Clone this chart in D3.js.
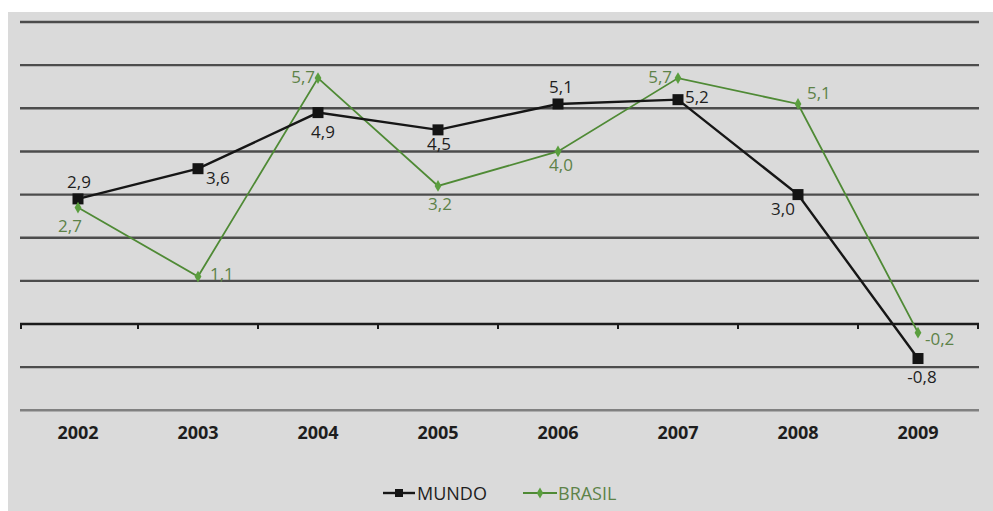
<!DOCTYPE html>
<html>
<head>
<meta charset="utf-8">
<script src="https://cdn.jsdelivr.net/npm/d3@7"></script>
<style>
  html, body { margin: 0; padding: 0; background: #ffffff; }
  svg { display: block; }
  text { font-family: "Open Sans", "DejaVu Sans", sans-serif; }
</style>
</head>
<body>
<svg id="chart" width="993" height="511"></svg>
<script>
// Crescimento do PIB (%), Mundo x Brasil
const years = ["2002", "2003", "2004", "2005", "2006", "2007", "2008", "2009"];
const mundo = [2.9, 3.6, 4.9, 4.5, 5.1, 5.2, 3.0, -0.8];
const brasil = [2.7, 1.1, 5.7, 3.2, 4.0, 5.7, 5.1, -0.2];
const gridValues = [-2, -1, 0, 1, 2, 3, 4, 5, 6, 7];
const seriesNames = ["MUNDO", "BRASIL"];

// label placement per point: [dx, dy, anchor]
const mundoLabelPos = [
  [1, -11, "middle"], [8, 15, "start"], [5, 25, "middle"], [1, 20, "middle"],
  [3, -11, "middle"], [7, 3, "start"], [-15, 20, "middle"], [4, 24, "middle"]
];
const brasilLabelPos = [
  [-8, 24, "middle"], [12, 3, "start"], [-3, 5, "end"], [2, 24, "middle"],
  [3, 20, "middle"], [-6, 5, "end"], [9, -5, "start"], [7, 12, "start"]
];

const fmt = d3.formatLocale({ decimal: ",", thousands: ".", grouping: [3], currency: ["", ""], minus: "-" }).format(".1f");

const svg = d3.select("#chart");
const W = 993, H = 511;

// panel background
svg.append("rect").attr("x", 8).attr("y", 12).attr("width", W - 8).attr("height", H - 12).attr("fill", "#dadada");

const x = d3.scaleBand().domain(years).range([18, 978]).padding(0);
const y = d3.scaleLinear().domain([-2, 7]).range([410.3, 22]);
const xl = 20, xr = 979;

// horizontal gridlines
svg.append("g").selectAll("line").data(gridValues.filter(v => v !== 0)).join("line")
  .attr("x1", xl).attr("x2", xr)
  .attr("y1", d => y(d)).attr("y2", d => y(d))
  .attr("stroke", d => d === -2 ? "#808080" : "#4c4c4c")
  .attr("stroke-width", 2.4);

// zero axis with tick marks at category boundaries
const zeroAxis = svg.append("g");
zeroAxis.append("line").attr("x1", xl).attr("x2", xr).attr("y1", y(0)).attr("y2", y(0))
  .attr("stroke", "#1a1a1a").attr("stroke-width", 2.4);
const bounds = years.map(d => x(d)).concat([x(years[years.length - 1]) + x.bandwidth()]);
zeroAxis.selectAll("line.tick").data(bounds).join("line").attr("class", "tick")
  .attr("x1", d => Math.max(xl + 1, Math.min(xr - 1, d))).attr("x2", d => Math.max(xl + 1, Math.min(xr - 1, d)))
  .attr("y1", y(0)).attr("y2", y(0) + 5)
  .attr("stroke", "#1a1a1a").attr("stroke-width", 2);

// year labels
svg.append("g").selectAll("text").data(years).join("text")
  .attr("x", d => x(d) + x.bandwidth() / 2)
  .attr("y", 439)
  .attr("text-anchor", "middle")
  .attr("font-size", 18).attr("font-weight", 700).attr("fill", "#1e1e1e")
  .text(d => d);

const cx = (d, i) => x(years[i]) + x.bandwidth() / 2;
const line = d3.line().x((d, i) => cx(d, i)).y(d => y(d));

const greenLine = "#4f8a35", greenMark = "#5a9e3e", greenText = "#5d8248";

// BRASIL series
svg.append("path").datum(brasil).attr("d", line)
  .attr("fill", "none").attr("stroke", greenLine).attr("stroke-width", 1.8);
// MUNDO series
svg.append("path").datum(mundo).attr("d", line)
  .attr("fill", "none").attr("stroke", "#161616").attr("stroke-width", 2.4);

svg.append("g").selectAll("rect").data(mundo).join("rect")
  .attr("x", (d, i) => cx(d, i) - 5.5).attr("y", d => y(d) - 5.5)
  .attr("width", 11).attr("height", 11).attr("fill", "#141414");

const diamond = d3.symbol().type(d3.symbolDiamond).size(40);
svg.append("g").selectAll("path").data(brasil).join("path")
  .attr("d", diamond)
  .attr("transform", (d, i) => `translate(${cx(d, i)},${y(d)})`)
  .attr("fill", greenMark);

// value labels
svg.append("g").selectAll("text").data(mundo).join("text")
  .attr("x", (d, i) => cx(d, i) + mundoLabelPos[i][0])
  .attr("y", (d, i) => y(d) + mundoLabelPos[i][1])
  .attr("text-anchor", (d, i) => mundoLabelPos[i][2])
  .attr("font-size", 17).attr("fill", "#1e1e1e")
  .text(d => fmt(d));

svg.append("g").selectAll("text").data(brasil).join("text")
  .attr("x", (d, i) => cx(d, i) + brasilLabelPos[i][0])
  .attr("y", (d, i) => y(d) + brasilLabelPos[i][1])
  .attr("text-anchor", (d, i) => brasilLabelPos[i][2])
  .attr("font-size", 17).attr("fill", greenText)
  .text(d => fmt(d));

// legend
const legend = svg.append("g");
const ly = 493;
const lm = legend.append("g").attr("transform", "translate(383,0)");
lm.append("line").attr("x1", 0).attr("x2", 32).attr("y1", ly).attr("y2", ly).attr("stroke", "#161616").attr("stroke-width", 2.4);
lm.append("rect").attr("x", 12).attr("y", ly - 4).attr("width", 8).attr("height", 8).attr("fill", "#141414");
lm.append("text").attr("x", 34).attr("y", ly + 7).attr("font-size", 18).attr("fill", "#1e1e1e").text(seriesNames[0]);

const lb = legend.append("g").attr("transform", "translate(523,0)");
lb.append("line").attr("x1", 0).attr("x2", 34).attr("y1", ly).attr("y2", ly).attr("stroke", greenLine).attr("stroke-width", 2);
lb.append("path").attr("d", d3.symbol().type(d3.symbolDiamond).size(36)).attr("transform", `translate(17,${ly})`).attr("fill", greenMark);
lb.append("text").attr("x", 35).attr("y", ly + 7).attr("font-size", 18).attr("fill", greenText).text(seriesNames[1]);
</script>
</body>
</html>
